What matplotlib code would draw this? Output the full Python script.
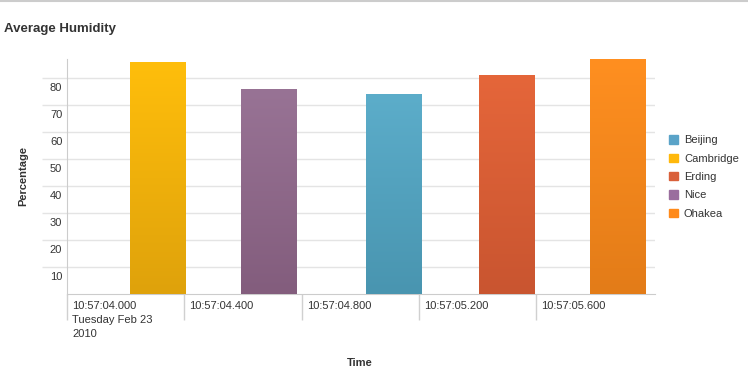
import numpy as np
import matplotlib.pyplot as plt
import matplotlib.colors as mcolors

plt.rcParams['font.family'] = ['Liberation Sans', 'DejaVu Sans']

# data: seconds after 10:57:04.000, humidity percentage
cities = ["Cambridge", "Nice", "Beijing", "Erding", "Ohakea"]
offsets = [0.31, 0.69, 1.115, 1.50, 1.88]
humidity = [85.9, 75.9, 74.1, 81.1, 87.0]
top_colors = ["#ffbe0b", "#987395", "#5cadca", "#e5663a", "#ff8f20"]
bottom_colors = ["#dfa20c", "#835d7d", "#4995b0", "#c95530", "#e37c18"]

legend_names = ["Beijing", "Cambridge", "Erding", "Nice", "Ohakea"]
legend_colors = ["#5aa3c8", "#ffb80b", "#d9603a", "#9a6e9e", "#ff8a1a"]

tick_pos = [0.0, 0.4, 0.8, 1.2, 1.6]
tick_labels = ["10:57:04.000\nTuesday Feb 23\n2010", "10:57:04.400",
               "10:57:04.800", "10:57:05.200", "10:57:05.600"]
y_ticks = [10, 20, 30, 40, 50, 60, 70, 80]

fig = plt.figure(figsize=(7.48, 3.78), dpi=100)
ax = fig.add_axes([67 / 748, 84 / 378, 588 / 748, 235 / 378])

bars = ax.bar(offsets, humidity, width=0.19, zorder=3)
for bar, c_top, c_bot in zip(bars, top_colors, bottom_colors):
    x0, y0 = bar.get_xy()
    w, h = bar.get_width(), bar.get_height()
    cmap = mcolors.LinearSegmentedColormap.from_list("g", [c_bot, c_top])
    grad = np.linspace(0, 1, 100).reshape(-1, 1)
    img = ax.imshow(grad, cmap=cmap, origin="lower", aspect="auto",
                    extent=(x0, x0 + w, y0, y0 + h), zorder=3)
    img.set_clip_path(bar)
    bar.set_facecolor("none")
    bar.set_edgecolor("none")

ax.set_xlim(0, 2.005)
ax.set_ylim(0, 87)

ax.set_yticks(y_ticks)
ax.set_yticklabels([])
for v in y_ticks:
    ax.text(-0.008, v - 3.7, str(v), ha="right", va="center", fontsize=8,
            color="#333333", transform=ax.get_yaxis_transform())
ax.yaxis.grid(True, color="#e4e4e4", linewidth=1, zorder=0)
ax.tick_params(axis="y", length=18, color="#e4e4e4", width=1, pad=0)

ax.set_xticks(tick_pos)
ax.set_xticklabels([])
for p, lab in zip(tick_pos, tick_labels):
    ax.text(p + 0.017, -0.03, lab, ha="left", va="top", fontsize=8,
            color="#333333", linespacing=1.5,
            transform=ax.get_xaxis_transform())
ax.tick_params(axis="x", length=19, color="#d0d0d0", width=1)

for side in ["top", "right"]:
    ax.spines[side].set_visible(False)
ax.spines["left"].set_color("#cccccc")
ax.spines["bottom"].set_color("#cccccc")

fig.text(4 / 748, 1 - 29 / 378, "Average Humidity", fontsize=9.5,
         fontweight="bold", color="#333333", va="center", ha="left")
fig.text(23 / 748, 1 - 176 / 378, "Percentage", fontsize=8, fontweight="bold",
         color="#333333", rotation=90, va="center", ha="center")
fig.text(360 / 748, 1 - 363 / 378, "Time", fontsize=8, fontweight="bold",
         color="#333333", va="center", ha="center")

# top border line
fig.add_artist(plt.Line2D([0, 1], [0.998, 0.998], color="#cccccc",
                          linewidth=1.5, transform=fig.transFigure))

handles = [plt.Rectangle((0, 0), 1, 1, color=c) for c in legend_colors]
fig.legend(handles, legend_names, loc="center left",
           bbox_to_anchor=(659 / 748, 1 - 177 / 378), frameon=False,
           fontsize=8, handlelength=0.8, handleheight=0.8,
           handletextpad=0.55, labelspacing=0.75, labelcolor="#333333")

fig.savefig("out.png", dpi=100)
